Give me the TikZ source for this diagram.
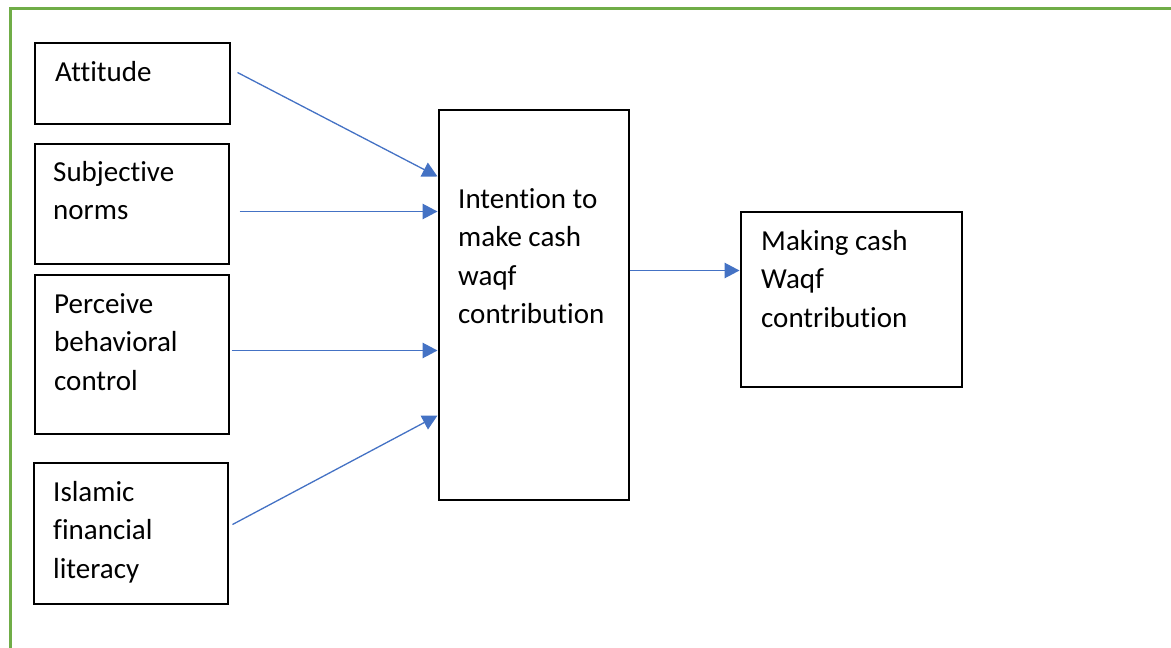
\documentclass[tikz,border=0pt]{standalone}
\usepackage{fontspec}
\setmainfont[Ligatures=NoCommon]{Carlito}
\usetikzlibrary{arrows.meta,calc}
\definecolor{framegreen}{RGB}{112,173,71}
\definecolor{arrowblue}{RGB}{68,114,196}
\tikzset{
  box/.style={draw, line width=2pt, anchor=north west, inner sep=0pt},
  lbl/.style={anchor=base west, inner sep=0pt, align=left, font=\fontsize{29}{38.5}\selectfont},
  link/.style={draw=arrowblue, line width=1.3pt, -{Triangle[length=15pt,width=15.5pt]}}
}
\begin{document}
\begin{tikzpicture}[x=1pt,y=-1pt]
  \useasboundingbox (0,0) rectangle (1171,648);
  \draw[framegreen, line width=3pt] (10.5,660) -- (10.5,8) -- (1180,8);
  % boxes
  \node[box, minimum width=195, minimum height=81]  (att) at (33.5,41.5)  {};
  \node[box, minimum width=194, minimum height=120] (sub) at (33.5,142.5) {};
  \node[box, minimum width=194, minimum height=159] (pbc) at (33.5,273.5) {};
  \node[box, minimum width=194, minimum height=141] (ifl) at (32.5,461.5) {};
  \node[box, minimum width=190, minimum height=390] (int) at (437.5,108.5) {};
  \node[box, minimum width=221, minimum height=175] (mak) at (739.5,210.5) {};
  % texts (placed at the baseline of their last line)
  \node[lbl] (t-att) at (55,81)     {Attitude};
  \node[lbl] (t-sub) at (53,219.5)  {Subjective\\norms};
  \node[lbl] (t-pbc) at (54,390)    {Perceive\\behavioral\\control};
  \node[lbl] (t-ifl) at (53,578)    {Islamic\\financial\\literacy};
  \node[lbl] (t-int) at (458,323.5) {Intention to\\make cash\\waqf\\contribution};
  \node[lbl] (t-mak) at (761,327)   {Making cash\\Waqf\\contribution};
  % arrows
  \draw[link] ($(att.east)+(7,-10.5)$) -- ($(int.west)+(0,-128)$);
  \draw[link] ($(sub.east)+(10,8)$)    -- ($(int.west)+(0,-93)$);
  \draw[link] ($(pbc.east)+(2,-3.5)$)  -- ($(int.west)+(0,46)$);
  \draw[link] ($(ifl.east)+(4,-8.5)$)  -- ($(int.west)+(0,111)$);
  \draw[link] ($(int.east)+(0,-34)$)   -- ($(mak.west)+(0,-28.5)$);
\end{tikzpicture}
\end{document}
